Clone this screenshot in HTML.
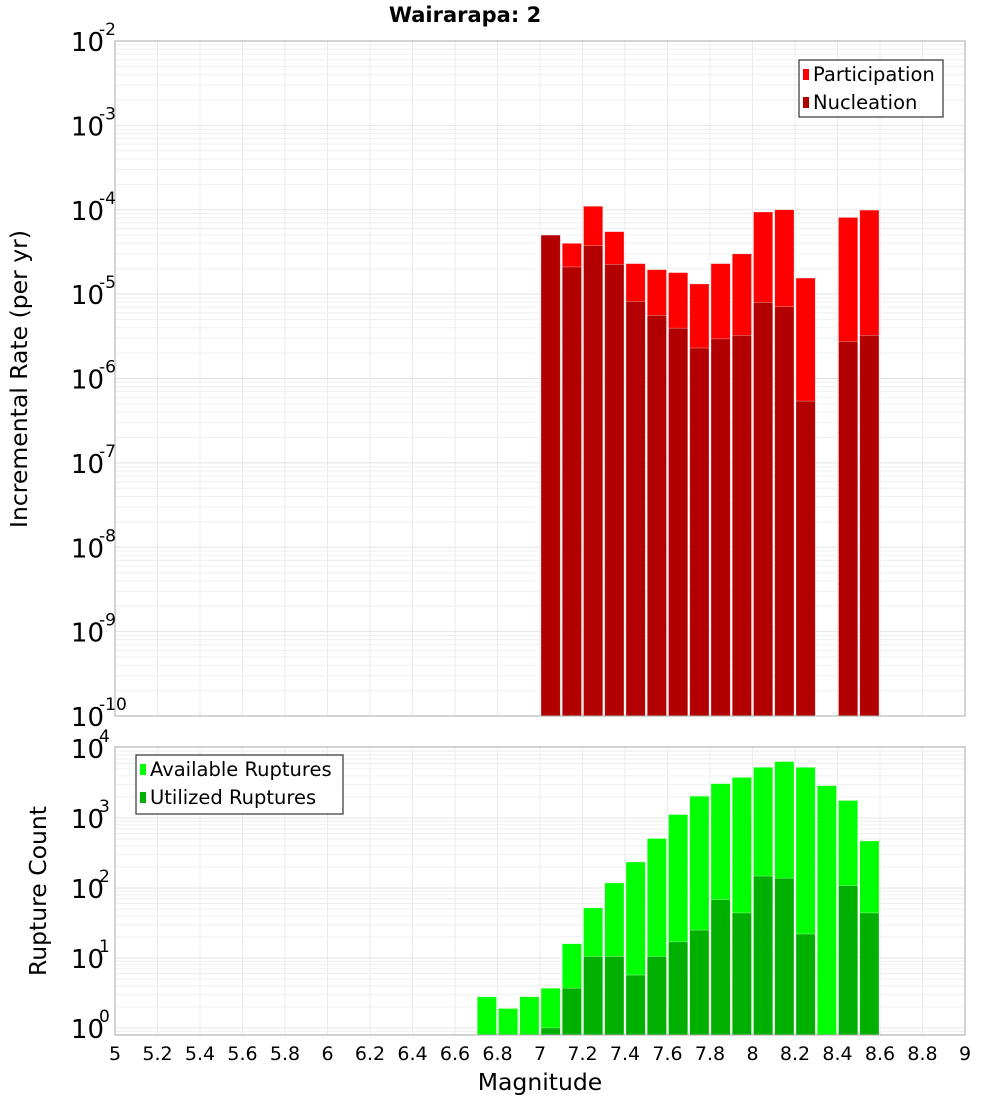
<!DOCTYPE html>
<html><head><meta charset="utf-8"><style>
html,body{margin:0;padding:0;background:#fff;}
svg{display:block;font-family:"DejaVu Sans","Liberation Sans",sans-serif;}
</style></head><body>
<svg id="chart" width="1000" height="1100" viewBox="0 0 1000 1100" xmlns="http://www.w3.org/2000/svg">
<text x="465" y="22" text-anchor="middle" font-size="21" font-weight="bold">Wairarapa: 2</text>
<g id="top"></g>
<g id="bot"></g>
<text transform="translate(27,379) rotate(-90)" text-anchor="middle" font-size="23.5">Incremental Rate (per yr)</text>
<text transform="translate(46,891) rotate(-90)" text-anchor="middle" font-size="23.5">Rupture Count</text>
<text x="540" y="1090" text-anchor="middle" font-size="23.5">Magnitude</text>
</svg>
<script>
const rateMags = [7.05,7.15,7.25,7.35,7.45,7.55,7.65,7.75,7.85,7.95,8.05,8.15,8.25,8.45,8.55];
const participation = [5.0e-5,4.0e-5,1.1e-4,5.5e-5,2.3e-5,1.95e-5,1.8e-5,1.32e-5,2.3e-5,3.0e-5,9.4e-5,1.0e-4,1.55e-5,8.1e-5,9.9e-5];
const nucleation = [5.0e-5,2.1e-5,3.75e-5,2.25e-5,8.2e-6,5.6e-6,3.95e-6,2.3e-6,2.95e-6,3.25e-6,8.0e-6,7.1e-6,5.4e-7,2.75e-6,3.25e-6];
const countMags = [6.75,6.85,6.95,7.05,7.15,7.25,7.35,7.45,7.55,7.65,7.75,7.85,7.95,8.05,8.15,8.25,8.35,8.45,8.55];
const available = [2.8,1.9,2.8,3.7,16,52,118,235,510,1120,2050,3100,3800,5300,6400,5300,2900,1780,470];
const utilized = [0,0,0,1,3.7,10.5,10.5,5.7,10.5,17,25,68,44,148,138,22,0,108,44];
const xTicks = ["5","5.2","5.4","5.6","5.8","6","6.2","6.4","6.6","6.8","7","7.2","7.4","7.6","7.8","8","8.2","8.4","8.6","8.8","9"];
const topExps = [-2,-3,-4,-5,-6,-7,-8,-9,-10];
const botExps = [4,3,2,1,0];

const NS="http://www.w3.org/2000/svg";
const L=115,R=965;
const X=m=>L+(m-5)/4*(R-L);
const topT=41,topB=716;
const yTop=v=>topT+(-2-Math.log10(v))*(topB-topT)/8;
const botT=747,botB=1035;
const yBot=v=>748+(4-Math.log10(v))*70;
function el(p,t,a){const e=document.createElementNS(NS,t);for(const k in a)e.setAttribute(k,a[k]);p.appendChild(e);return e;}

function grid(g,t,b,yf,dmin,dmax){
  for(let i=0;i<xTicks.length;i++){const x=X(parseFloat(xTicks[i]));
    const l=el(g,'line',{x1:x,x2:x,y1:t,y2:b,stroke:'#ebebeb','stroke-width':1});
    
    }
  for(let d=dmin;d<=dmax;d++){for(let k=1;k<10;k++){const y=yf(k*Math.pow(10,d));if(y<t-0.5||y>b+0.5)continue;
    const l=el(g,'line',{x1:L,x2:R,y1:y,y2:y,stroke:k==1?'#e4e4e4':'#efefef','stroke-width':1});
    
    }}
}
function frame(g,t,b){const r=el(g,'rect',{x:L,y:t,width:R-L,height:b-t,fill:'none',stroke:'#aaa','stroke-width':1});
  
  }
function bar(g,m,v,yf,base,color,name){if(!v)return;const x0=X(m-0.05)+1,x1=X(m+0.05)-1;const y=yf(v);
  const r=el(g,'rect',{x:x0,y:y,width:x1-x0,height:base-y,fill:color,stroke:'rgba(255,255,255,0.5)','stroke-width':0.6});
  
  }
function ylabel(g,y,e){const t=el(g,'text',{x:104,y:y+10,'text-anchor':'end','font-size':26});t.textContent='10';
  
  
  const s=el(g,'text',{x:99,y:y-6,'font-size':17});s.textContent=String(e);
  
  }

const gt=document.getElementById('top');
grid(gt,topT,topB,yTop,-10,-3);
for(let i=0;i<rateMags.length;i++){
  bar(gt,rateMags[i],participation[i],yTop,topB,'#ff0000','participation-bar');
  bar(gt,rateMags[i],nucleation[i],yTop,topB,'#b20000','nucleation-bar');}
frame(gt,topT,topB);
topExps.forEach(e=>ylabel(gt,yTop(Math.pow(10,e)),e));

const gb=document.getElementById('bot');
grid(gb,botT,botB,yBot,-1,3);
for(let i=0;i<countMags.length;i++){
  bar(gb,countMags[i],available[i],yBot,botB,'#00ff00','available-bar');
  bar(gb,countMags[i],utilized[i],yBot,botB,'#00b000','utilized-bar');}
frame(gb,botT,botB);
botExps.forEach(e=>ylabel(gb,yBot(Math.pow(10,e)),e));
for(const tk of xTicks){const t=el(gb,'text',{x:X(parseFloat(tk)),y:1060,'text-anchor':'middle','font-size':19});t.textContent=tk;
  
  }

function legend(x,y,w,h,items,name){const g=el(document.getElementById('chart'),'g',{});
  
  
  el(g,'rect',{x:x,y:y,width:w,height:h,fill:'#fff',stroke:'#333','stroke-width':1.2});
  items.forEach((it,i)=>{const cy=y+14+i*28;
    el(g,'rect',{x:x+4,y:cy-5,width:6,height:11,fill:it[1]});
    const t=el(g,'text',{x:x+14,y:cy+7,'font-size':19.5});t.textContent=it[0];
    
    });}
legend(799,60,144,57,[['Participation','#ff0000'],['Nucleation','#b20000']],'rate-legend');
legend(136,755,207,59,[['Available Ruptures','#00ff00'],['Utilized Ruptures','#00b000']],'count-legend');
</script>
</body></html>
